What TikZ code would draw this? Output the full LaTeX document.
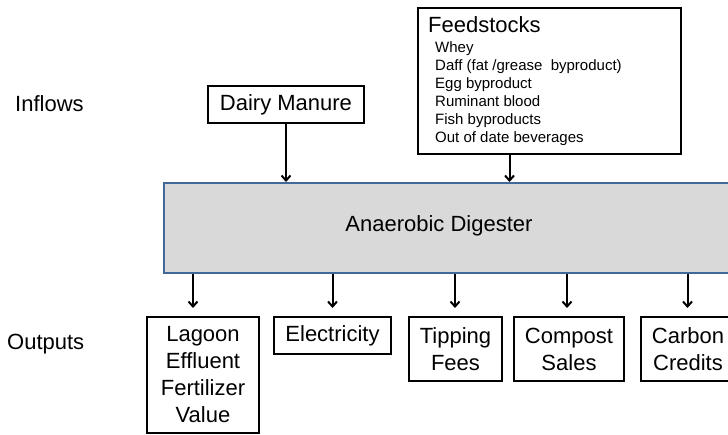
\documentclass[tikz,border=0pt]{standalone}
\usepackage{fontspec}
\setmainfont{Liberation Sans}
\usetikzlibrary{arrows.meta}
\newcommand\bigtxt{\fontsize{22}{27}\selectfont}
\newcommand\smalltxt{\fontsize{15}{18}\selectfont}
\tikzset{
  box/.style = {draw = black, line width = 2pt, inner sep = 0pt, align = center, font = \bigtxt},
  lbl/.style = {inner sep = 0pt, anchor = base west},
  flow/.style = {line width = 2pt, -{Straight Barb[length=5pt,width=9pt]}}
}
\begin{document}
\begin{tikzpicture}[x = 1pt, y = -1pt]
\useasboundingbox (0,0) rectangle (728,435);
\definecolor{digfill}{RGB}{217,217,217}
\definecolor{digline}{RGB}{66,104,152}
\node[lbl, font = \bigtxt] (inflows) at (15,112){Inflows};
\node[lbl, font = \bigtxt] (outputs) at (7,350){Outputs};
\node[box, anchor = north west, minimum width = 156, minimum height = 37] (dairy) at (207,85){Dairy Manure};
\node[box, anchor = north west, minimum width = 263, minimum height = 146] (feed) at (417,7){};
\node[lbl, font = \bigtxt] (feedtitle) at (428,33){Feedstocks};
\foreach \it [count = \i] in {Whey, {Daff (fat /grease\ \ byproduct)}, Egg byproduct, Ruminant blood, Fish byproducts, Out of date beverages}
  \node[lbl, font = \smalltxt] (item\i) at (435,{35+18*\i}){\it};
\node[fill = digfill, draw = digline, line width = 2pt, anchor = north west, minimum width = 580, minimum height = 90] (dig) at (163,182){};
\node[inner sep = 0pt, anchor = base, font = \bigtxt] (diglabel) at (439,232){Anaerobic Digester};
\draw[flow] (dairy.south) -- (dairy.south |- dig.north);
\draw[flow] ([xshift = -40]feed.south) -- ([xshift = -40]feed.south |- dig.north);
\foreach \nm/\xl/\xr/\yb/\txt in {lagoon/147/259/433/{Lagoon\\Effluent\\Fertilizer\\Value}, elec/274/391/354/{Electricity}, tip/409/502/381/{Tipping\\Fees}, comp/514/624/381/{Compost\\Sales}, carb/641/735/381/{Carbon\\Credits}}
  \node[box, minimum width = \xr-\xl, minimum height = \yb-317] (\nm) at ({(\xl+\xr)/2},{(317+\yb)/2}){\txt};
\foreach \nm/\dx in {lagoon/-10, elec/0, tip/-0.5, comp/-2, carb/-0.5}
  \draw[flow, shorten > = 8pt] ([xshift = \dx]\nm.north |- dig.south) -- ([xshift = \dx]\nm.north);
\end{tikzpicture}
\end{document}
